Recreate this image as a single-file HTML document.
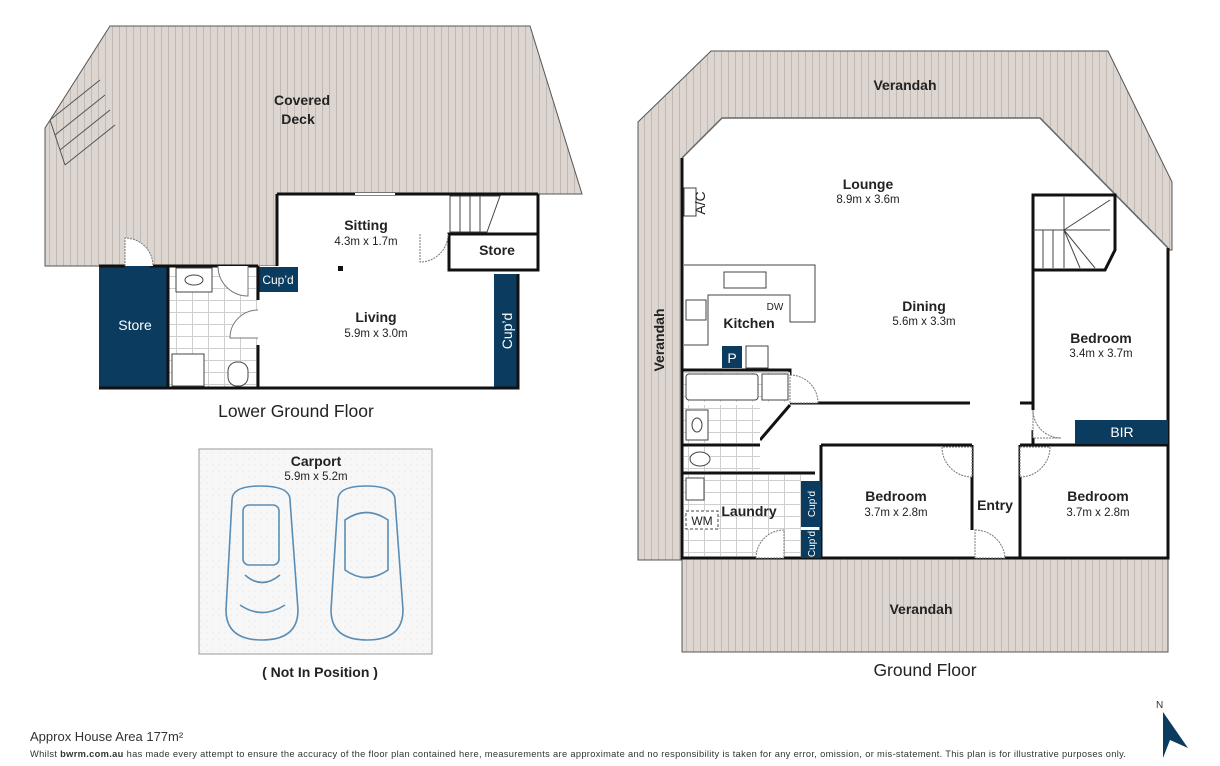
<!DOCTYPE html>
<html><head><meta charset="utf-8"><style>
html,body{margin:0;padding:0;background:#fff;}
svg{display:block;font-family:"Liberation Sans","DejaVu Sans",sans-serif;}
.t{font-size:14px;fill:#222;text-anchor:middle;}
.b{font-weight:bold;}
.s{font-size:11.5px;fill:#222;text-anchor:middle;}
</style></head><body>
<svg width="1220" height="766" viewBox="0 0 1220 766" xmlns="http://www.w3.org/2000/svg">
<defs>
<pattern id="deck" width="7" height="10" patternUnits="userSpaceOnUse">
<rect width="7" height="10" fill="#ddd6d0"/><line x1="0.5" y1="0" x2="0.5" y2="10" stroke="#b5afa9" stroke-width="0.7"/>
</pattern>
<pattern id="tile" width="16" height="12" patternUnits="userSpaceOnUse">
<rect width="16" height="12" fill="#fff"/><path d="M0 0.5H16M0.5 0V12" stroke="#cfcfcf" stroke-width="1"/>
</pattern>
<pattern id="dots" width="6" height="6" patternUnits="userSpaceOnUse">
<rect width="6" height="6" fill="#f7f7f7"/><circle cx="3" cy="3" r="0.5" fill="#d8d8d8"/>
</pattern>
</defs>

<polygon points="45,128 110,26 530,26 582,194 277,194 277,266 45,266" fill="url(#deck)" stroke="#555" stroke-width="1"/>
<g stroke="#555" fill="none" stroke-width="1">
<path d="M50,120 L100,80 M55,135 L105,95 M60,150 L110,110 M65,165 L115,125 M50,120 L65,165"/>
</g>
<text x="302" y="105" class="t b">Covered</text>
<text x="298" y="124" class="t b">Deck</text>

<rect x="99" y="266" width="69" height="122" fill="#0b3b5e"/>
<text x="135" y="330" class="t" style="fill:#fff">Store</text>
<rect x="168" y="266" width="90" height="122" fill="url(#tile)"/>
<rect x="277" y="194" width="261" height="194" fill="#fff"/>
<rect x="258" y="266" width="20" height="122" fill="#fff"/>
<rect x="449" y="234" width="89" height="36" fill="#fff" stroke="#111" stroke-width="3"/>
<rect x="494" y="274" width="24" height="114" fill="#0b3b5e"/>
<text transform="translate(512,331) rotate(-90)" class="t" style="fill:#fff">Cup’d</text>
<rect x="259" y="267" width="39" height="25" fill="#0b3b5e"/>
<text x="278" y="284" class="s" style="fill:#fff;font-size:12px">Cup’d</text>
<g stroke="#111" stroke-width="3" fill="none">
<path d="M99,388 H518 V274"/>
<path d="M538,194 V234"/>
<path d="M277,194 H538"/>
<path d="M277,194 V266"/>
<path d="M99,266 H125 M150,266 H258"/>
<path d="M168,266 V388"/>
<path d="M258,266 V300 M258,345 V388"/>
</g>
<path d="M355,194 H395" stroke="#fff" stroke-width="2"/>
<path d="M450,196 H500 L487,232 H450 Z" fill="none" stroke="#444" stroke-width="1"/>
<path d="M460,196 V232 M470,196 V232 M480,196 V232" stroke="#444" stroke-width="1"/>
<path d="M125,266 V238 A28 28 0 0 1 153,266" fill="#fff" stroke="#777" stroke-dasharray="2,1"/>
<path d="M420,234 V262 A28 28 0 0 0 448,234" fill="#fff" stroke="#777" stroke-dasharray="2,1"/>
<path d="M218,266 A30 30 0 0 0 248,296 V266" fill="#fff" stroke="#777"/>
<path d="M258,310 A28 28 0 0 0 230,338 H258" fill="#fff" stroke="#777"/>
<rect x="176" y="268" width="36" height="24" fill="#fff" stroke="#444"/>
<ellipse cx="194" cy="280" rx="9" ry="5" fill="none" stroke="#444"/>
<rect x="172" y="354" width="32" height="32" fill="#fff" stroke="#444"/>
<rect x="228" y="362" width="20" height="24" rx="9" fill="#fff" stroke="#444"/>
<rect x="338" y="266" width="5" height="5" fill="#111"/>
<text x="366" y="230" class="t b">Sitting</text>
<text x="366" y="245" class="s">4.3m x 1.7m</text>
<text x="376" y="322" class="t b">Living</text>
<text x="376" y="337" class="s">5.9m x 3.0m</text>
<text x="497" y="255" class="t b">Store</text>
<text x="296" y="417" class="t" style="font-size:17.5px">Lower Ground Floor</text>

<rect x="199" y="449" width="233" height="205" fill="url(#dots)" stroke="#999" stroke-width="1"/>
<text x="316" y="466" class="t b">Carport</text>
<text x="316" y="480" class="s">5.9m x 5.2m</text>
<g fill="none" stroke="#5b8db4" stroke-width="1.6">
<path d="M232,500 Q232,486 260,486 Q290,486 290,500 L298,610 Q298,640 262,640 Q226,640 226,610 Z"/>
<rect x="243" y="505" width="36" height="60" rx="6"/>
<path d="M245,575 Q262,590 280,575 M240,605 Q262,620 285,605"/>
<path d="M338,500 Q338,486 366,486 Q395,486 395,500 L403,610 Q403,640 367,640 Q331,640 331,610 Z"/>
<path d="M345,520 Q366,505 388,520 L388,570 Q366,585 345,570 Z"/>
</g>
<text x="320" y="677" class="t b">( Not In Position )</text>

<polygon points="638,122 711,51 1108,51 1172,182 1172,250 1168,250 1168,652 682,652 682,560 638,560" fill="url(#deck)" stroke="#555" stroke-width="1"/>
<polygon points="682,158 722,118 1040,118 1168,248 1168,558 682,558" fill="#fff"/>
<g stroke="#111" stroke-width="3" fill="none">
<path d="M682,158 V558 H1168 V248"/>
<path d="M682,158 L722,118" stroke="#666" stroke-width="1.5"/>
<path d="M722,118 H1040 L1168,248" stroke="#666" stroke-width="1.5"/>
<path d="M1033,195 V270 H1105 L1115,250 V195 Z" stroke-width="3"/>
<path d="M1033,270 V410 M1033,430 V445"/>
<path d="M1020,445 H1168"/>
<path d="M1020,445 V558"/>
<path d="M972,445 V530"/>
<path d="M821,445 H972"/>
<path d="M821,445 V558"/>
<path d="M790,403 H970 M1020,403 H1033"/>
<path d="M682,370 H790 V390"/>
<path d="M682,445 H760"/>
<path d="M682,473 H815"/>
<path d="M760,440 L790,405"/>
</g>
<rect x="1075" y="420" width="93" height="24" fill="#0b3b5e"/>
<text x="1122" y="437" class="t" style="fill:#fff">BIR</text>
<rect x="684" y="372" width="106" height="30" fill="url(#tile)"/>
<rect x="684" y="405" width="76" height="38" fill="url(#tile)"/>
<rect x="684" y="447" width="76" height="24" fill="url(#tile)"/>
<rect x="684" y="475" width="117" height="81" fill="url(#tile)"/>
<rect x="686" y="374" width="72" height="26" rx="3" fill="#fff" stroke="#444"/>
<rect x="762" y="374" width="26" height="26" fill="#fff" stroke="#444"/>
<rect x="686" y="410" width="22" height="30" fill="#fff" stroke="#444"/>
<ellipse cx="697" cy="425" rx="5" ry="7" fill="none" stroke="#444"/>
<ellipse cx="700" cy="459" rx="10" ry="7" fill="#fff" stroke="#444"/>
<rect x="686" y="478" width="18" height="22" fill="#fff" stroke="#444"/>
<rect x="686" y="511" width="32" height="18" fill="#fff" stroke="#444" stroke-dasharray="3,2"/>
<text x="702" y="525" class="s" style="font-size:12px">WM</text>
<rect x="801" y="481" width="20" height="46" fill="#0b3b5e"/>
<text transform="translate(815,504) rotate(-90)" class="s" style="fill:#fff;font-size:10px">Cup’d</text>
<rect x="801" y="530" width="20" height="28" fill="#0b3b5e"/>
<text transform="translate(815,544) rotate(-90)" class="s" style="fill:#fff;font-size:10px">Cup’d</text>
<path d="M684,265 H815 V322 H790 V295 H708 V345 H684" fill="none" stroke="#444" stroke-width="1"/>
<rect x="724" y="272" width="42" height="16" fill="none" stroke="#444"/>
<rect x="686" y="300" width="20" height="20" fill="none" stroke="#444"/>
<rect x="722" y="346" width="20" height="22" fill="#0b3b5e"/>
<text x="732" y="363" class="t" style="fill:#fff">P</text>
<rect x="746" y="346" width="22" height="22" fill="#fff" stroke="#444"/>
<rect x="684" y="188" width="12" height="28" fill="#fff" stroke="#444"/>
<text transform="translate(705,203) rotate(-90)" class="t">A/C</text>
<text x="775" y="310" class="s" style="font-size:10px">DW</text>
<path d="M790,375 A28 28 0 0 1 818,403 H790 Z" fill="#fff" stroke="#777" stroke-dasharray="2,1"/>
<path d="M1033,410 A28 28 0 0 0 1061,438 H1033 Z" fill="#fff" stroke="#777" stroke-dasharray="2,1"/>
<path d="M1020,447 H1050 A30 30 0 0 1 1020,477 Z" fill="#fff" stroke="#777" stroke-dasharray="2,1"/>
<path d="M972,447 H942 A30 30 0 0 0 972,477 Z" fill="#fff" stroke="#777" stroke-dasharray="2,1"/>
<path d="M975,530 A30 30 0 0 1 1005,558 H975 Z" fill="#fff" stroke="#777" stroke-dasharray="2,1"/>
<path d="M756,558 A28 28 0 0 1 784,530 V558 Z" fill="#fff" stroke="#777" stroke-dasharray="2,1"/>
<g stroke="#444" stroke-width="1" fill="none">
<path d="M1064,197 V268 M1033,230 H1064 M1043,230 V268 M1053,230 V268 M1064,230 L1110,200 M1064,230 L1110,230 M1064,230 L1095,268 M1064,230 L1080,268"/>
</g>
<text x="868" y="189" class="t b">Lounge</text>
<text x="868" y="203" class="s">8.9m x 3.6m</text>
<text x="924" y="311" class="t b">Dining</text>
<text x="924" y="325" class="s">5.6m x 3.3m</text>
<text x="749" y="328" class="t b">Kitchen</text>
<text x="1101" y="343" class="t b">Bedroom</text>
<text x="1101" y="357" class="s">3.4m x 3.7m</text>
<text x="896" y="501" class="t b">Bedroom</text>
<text x="896" y="516" class="s">3.7m x 2.8m</text>
<text x="1098" y="501" class="t b">Bedroom</text>
<text x="1098" y="516" class="s">3.7m x 2.8m</text>
<text x="995" y="510" class="t b">Entry</text>
<text x="749" y="516" class="t b">Laundry</text>
<text x="905" y="90" class="t b">Verandah</text>
<text x="921" y="614" class="t b">Verandah</text>
<text transform="translate(664,340) rotate(-90)" class="t b">Verandah</text>
<text x="925" y="676" class="t" style="font-size:17.5px">Ground Floor</text>

<text x="30" y="741" style="font-size:13px;fill:#333">Approx House Area 177m²</text>
<text x="30" y="757" style="font-size:9.3px;fill:#333" textLength="1096" lengthAdjust="spacing">Whilst <tspan font-weight="bold">bwrm.com.au</tspan> has made every attempt to ensure the accuracy of the floor plan contained here, measurements are approximate and no responsibility is taken for any error, omission, or mis-statement. This plan is for illustrative purposes only.</text>
<polygon points="1163,712 1188,748 1170,740 1163,758" fill="#0b3b5e"/>
<text x="1156" y="708" style="font-size:10px;fill:#333">N</text>
</svg>
</body></html>
